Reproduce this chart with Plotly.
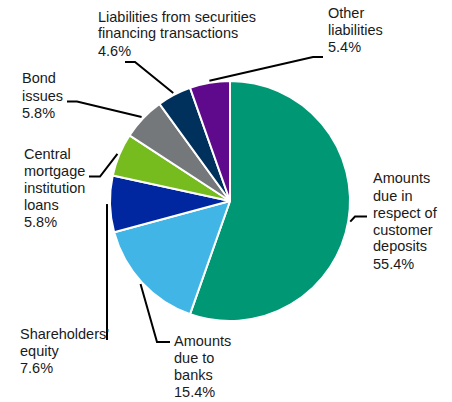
import math
import plotly.graph_objects as go

labels = ["Amounts due in respect of customer deposits", "Amounts due to banks",
          "Shareholders' equity", "Central mortgage institution loans", "Bond issues",
          "Liabilities from securities financing transactions", "Other liabilities"]
values = [55.4, 15.4, 7.6, 5.8, 5.8, 4.6, 5.4]
label_lines = [["Amounts", "due in", "respect of", "customer", "deposits"],
               ["Amounts", "due to", "banks"],
               ["Shareholders'", "equity"],
               ["Central", "mortgage", "institution", "loans"],
               ["Bond", "issues"],
               ["Liabilities from securities", "financing transactions"],
               ["Other", "liabilities"]]
colors = ["#009774", "#41B6E6", "#0027A0", "#77BC1F", "#75787B", "#00305C", "#5F0A8C"]

W, H = 452, 402
CX, CY, R = 230, 201, 120
FS = 14.5
LINE = 17
TOP_OFF = 5.5

# label layout: (text left x, first-line cap top y, elbow, end) in pixels
label_layout = [
    (372, 175, (355, 216.5), (367, 216.5)),
    (173, 337, (157, 342), (170, 342)),
    (19, 330, None, (107, 340)),
    (22.5, 150.5, (100, 176.5), (89, 176.5)),
    (21, 75, (77, 101.5), (67, 101.5)),
    (96.5, 13, (135, 62), (125, 62)),
    (326.5, 9, (313, 57), (323, 57)),
]

def px(x, y):
    return x / W, 1 - y / H

fig = go.Figure(go.Pie(
    labels=labels, values=values, sort=False, direction="clockwise", rotation=0,
    marker=dict(colors=colors, line=dict(color="white", width=2)),
    textinfo="none", hoverinfo="label+percent", showlegend=False,
    domain=dict(x=[(CX - R) / W, (CX + R) / W], y=[1 - (CY + R) / H, 1 - (CY - R) / H]),
))

total = sum(values)
cum = 0
shapes, annots = [], []
for i, v in enumerate(values):
    mid = (cum + v / 2) / total * 2 * math.pi
    cum += v
    sx = CX + (R + 2) * math.sin(mid)
    sy = CY - (R + 2) * math.cos(mid)
    tx, ty, elbow, end = label_layout[i]
    if elbow is None:
        pts = [(end[0], sy), end]
    else:
        pts = [(sx, sy), elbow, end]
    path = "M " + " L ".join(f"{px(x, y)[0]:.5f},{px(x, y)[1]:.5f}" for x, y in pts)
    shapes.append(dict(type="path", path=path, xref="paper", yref="paper",
                       line=dict(color="black", width=2)))
    lines = label_lines[i] + [f"{v:.1f}%"]
    for j, ln in enumerate(lines):
        ax, ay = px(tx, ty + LINE * j - TOP_OFF)
        annots.append(dict(text=ln, x=ax, y=ay, xref="paper", yref="paper",
                           xanchor="left", yanchor="top", align="left", showarrow=False,
                           borderpad=0,
                           font=dict(family="Liberation Sans, Arial", size=FS, color="#1a1a1a")))

fig.update_layout(width=W, height=H, margin=dict(l=0, r=0, t=0, b=0),
                  paper_bgcolor="white", plot_bgcolor="white",
                  shapes=shapes, annotations=annots)
fig.write_html("out.html")
